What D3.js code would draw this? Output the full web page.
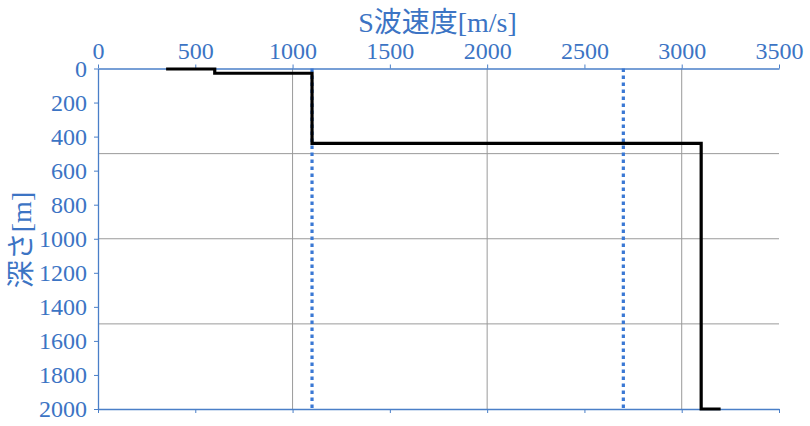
<!DOCTYPE html>
<html><head><meta charset="utf-8">
<script src="https://cdn.jsdelivr.net/npm/d3@7"></script>
<style>
html,body{margin:0;padding:0;background:#fff;}
svg{display:block;}
.serif{font-family:"Liberation Serif","Noto Sans CJK JP",serif;}
</style></head>
<body>
<svg id="c" width="810" height="426"></svg>
<script>
// Data
const profileVelocity = [350, 600, 600, 1100, 1100, 3100, 3100, 3200];
const profileDepth    = [3, 3, 28, 28, 440, 440, 2000, 2000];
const refVelocities = [1100, 2700];
const xTicks = [0, 500, 1000, 1500, 2000, 2500, 3000, 3500];
const yTicks = [0, 200, 400, 600, 800, 1000, 1200, 1400, 1600, 1800, 2000];
const xGrid = [1000, 2000, 3000];
const yGrid = [500, 1000, 1500];
const xTitle = "S波速度[m/s]";
const yTitle = "深さ[m]";

const blue = "#3c74c4", axisBlue = "#4a7fc8", grid = "#9a9a9a";
const svg = d3.select("#c");
const L = 98, R = 779, T = 68.5, B = 409;
const x = d3.scaleLinear().domain([0, 3500]).range([L, R]);
const y = d3.scaleLinear().domain([0, 2000]).range([T, B]);
const fmt = d3.format("d");

// gridlines
svg.append("g").selectAll("line").data(xGrid).join("line")
  .attr("x1", d => x(d)).attr("x2", d => x(d)).attr("y1", T).attr("y2", B)
  .attr("stroke", grid).attr("stroke-width", 1);
svg.append("g").selectAll("line").data(yGrid).join("line")
  .attr("x1", L).attr("x2", R).attr("y1", d => y(d)).attr("y2", d => y(d))
  .attr("stroke", grid).attr("stroke-width", 1);

function styleAxis(g, labels) {
  g.attr("font-family", null).attr("font-size", null).attr("class", "serif");
  g.select(".domain").attr("stroke", axisBlue).attr("stroke-width", 1.3);
  g.selectAll(".tick line").attr("stroke", axisBlue);
  g.selectAll(".tick text").attr("fill", blue).style("font-size", "24px");
  if (!labels) g.selectAll(".tick text").remove();
}
svg.append("g").attr("transform", `translate(0,${T})`)
  .call(d3.axisTop(x).tickValues(xTicks).tickFormat(fmt).tickSize(4).tickSizeOuter(0).tickPadding(5.5))
  .call(g => styleAxis(g, true));
svg.append("g").attr("transform", `translate(0,${B})`)
  .call(d3.axisBottom(x).tickValues(xTicks).tickSize(4).tickSizeOuter(0))
  .call(g => styleAxis(g, false));
svg.append("g").attr("transform", `translate(${L},0)`)
  .call(d3.axisLeft(y).tickValues(yTicks).tickFormat(fmt).tickSize(4).tickSizeOuter(0).tickPadding(7))
  .call(g => styleAxis(g, true));

// reference dotted lines
svg.append("g").selectAll("line").data(refVelocities).join("line")
  .attr("x1", d => x(d)).attr("x2", d => x(d)).attr("y1", y(0)).attr("y2", y(2000))
  .attr("stroke", "#3a78d4").attr("stroke-width", 3.2).attr("stroke-dasharray", "3.5,3.5");

// profile
const pts = profileVelocity.map((v, i) => [v, profileDepth[i]]);
svg.append("path").datum(pts)
  .attr("d", d3.line().x(d => x(d[0])).y(d => y(d[1])))
  .attr("fill", "none").attr("stroke", "#000").attr("stroke-width", 3.2)
  .attr("stroke-linejoin", "miter").attr("stroke-linecap", "butt");

// titles
svg.append("text").attr("class", "serif").attr("x", 437.5).attr("y", 32).attr("text-anchor", "middle")
  .attr("fill", blue).style("font-size", "28px").text(xTitle);
svg.append("text").attr("class", "serif").attr("transform", "translate(31,240) rotate(-90)").attr("text-anchor", "middle")
  .attr("fill", blue).style("font-size", "28px").text(yTitle);
</script>
</body></html>
